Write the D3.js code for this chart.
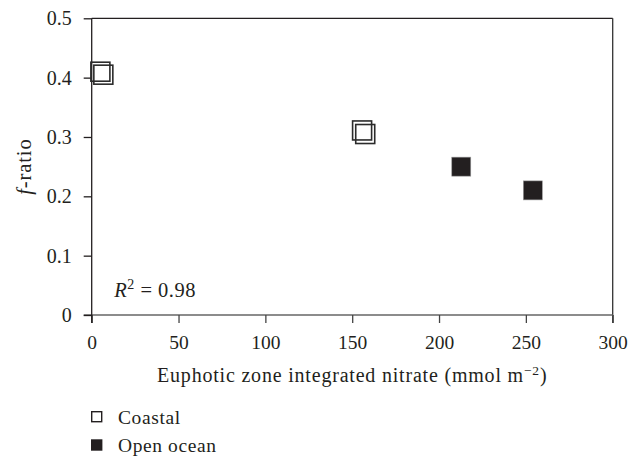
<!DOCTYPE html>
<html>
<head>
<meta charset="utf-8">
<script src="https://cdn.jsdelivr.net/npm/d3@7"></script>
<style>
  body { margin: 0; background: #fff; font-family: 'Liberation Serif', serif; }
</style>
</head>
<body>
<div id="chart"></div>
<script>
// Data
const coastalX = [5, 6.7, 155.7, 157.5];
const coastalY = [0.41, 0.405, 0.311, 0.305];
const oceanX = [212.8, 254];
const oceanY = [0.25, 0.21];
const xTicks = [0, 50, 100, 150, 200, 250, 300];
const yTicks = [0, 0.1, 0.2, 0.3, 0.4, 0.5];
const yTickLabels = ['0', '0.1', '0.2', '0.3', '0.4', '0.5'];
const legendLabels = ['Coastal', 'Open ocean'];

const totalW = 639, totalH = 458;
const margin = { top: 18.3, right: 26.3, bottom: 143, left: 91.7 };
const W = totalW - margin.left - margin.right;
const H = totalH - margin.top - margin.bottom;
const ink = '#231f20';
const serif = 'Liberation Serif, Times New Roman, serif';

const svg = d3.select('#chart').append('svg')
    .attr('width', totalW).attr('height', totalH)
    .style('font-family', serif);
const g = svg.append('g').attr('transform', `translate(${margin.left},${margin.top})`);

const x = d3.scaleLinear().domain([0, 300]).range([0, W]);
const y = d3.scaleLinear().domain([0, 0.5]).range([H, 0]);

// Frame (top + right)
g.append('line').attr('x1', 0).attr('x2', W).attr('y1', 0).attr('y2', 0)
    .attr('stroke', ink).attr('stroke-width', 1.3);
g.append('line').attr('x1', W).attr('x2', W).attr('y1', 0).attr('y2', H + 8)
    .attr('stroke', '#333').attr('stroke-width', 1.3);

// X axis
g.append('g').attr('transform', `translate(0,${H})`)
    .call(d3.axisBottom(x).tickValues(xTicks).tickSize(8).tickSizeOuter(0).tickPadding(12))
    .call(ax => ax.attr('font-family', null))
    .call(ax => ax.select('.domain').attr('stroke', '#666').attr('stroke-width', 1.5)
        .attr('d', `M-8,0H${W}`))
    .call(ax => ax.selectAll('line').attr('stroke', '#444').attr('stroke-width', 1.3))
    .call(ax => ax.selectAll('text').attr('font-size', 19.5)
        .style('font-family', serif).attr('fill', ink));

// Y axis
g.append('g')
    .call(d3.axisLeft(y).tickValues(yTicks).tickFormat((d, i) => yTickLabels[i])
        .tickSize(8).tickSizeOuter(0).tickPadding(12))
    .call(ax => ax.attr('font-family', null))
    .call(ax => ax.select('.domain').attr('stroke', ink).attr('stroke-width', 1.3)
        .attr('d', `M0,0V${H + 8}`))
    .call(ax => ax.selectAll('line').attr('stroke', ink).attr('stroke-width', 1.3))
    .call(ax => ax.selectAll('text').attr('font-size', 20)
        .style('font-family', serif).attr('fill', ink));

// Axis titles
const xt = g.append('text').attr('x', W / 2).attr('y', H + 67)
    .attr('text-anchor', 'middle').attr('font-size', 20).attr('fill', ink)
    .attr('letter-spacing', 0.8).style('font-family', serif);
xt.append('tspan').text('Euphotic zone integrated nitrate (mmol m');
xt.append('tspan').attr('dy', -7).attr('font-size', 13.5).text('−2');
xt.append('tspan').attr('dy', 7).text(')');

const yt = g.append('text').attr('transform', 'rotate(-90)')
    .attr('x', -H / 2).attr('y', -61).attr('text-anchor', 'middle')
    .attr('font-size', 20.5).attr('letter-spacing', 0.9).attr('fill', ink)
    .style('font-family', serif);
yt.append('tspan').attr('font-style', 'italic').text('f');
yt.append('tspan').text('-ratio');

// R² annotation
const rt = g.append('text').attr('x', x(13)).attr('y', y(0.031))
    .attr('font-size', 20.5).attr('letter-spacing', 0.5).attr('fill', ink)
    .style('font-family', serif);
rt.append('tspan').attr('font-style', 'italic').text('R');
rt.append('tspan').attr('dy', -8).attr('font-size', 14).text('2');
rt.append('tspan').attr('dy', 8).text(' = 0.98');

// Markers
const s = 19;
g.selectAll('.coastal').data(coastalX).join('rect').attr('class', 'coastal')
    .attr('x', (d) => x(d) - s / 2).attr('y', (d, i) => y(coastalY[i]) - s / 2)
    .attr('width', s).attr('height', s)
    .attr('fill', 'none').attr('stroke', '#2b2b2b').attr('stroke-width', 1.6);
g.selectAll('.ocean').data(oceanX).join('rect').attr('class', 'ocean')
    .attr('x', (d) => x(d) - s / 2).attr('y', (d, i) => y(oceanY[i]) - s / 2)
    .attr('width', s).attr('height', s)
    .attr('fill', ink).attr('stroke', '#9a9a9a').attr('stroke-width', 0.6);

// Legend
const lg = svg.append('g').attr('transform', 'translate(91,411)');
legendLabels.forEach((lab, i) => {
    const row = lg.append('g').attr('transform', `translate(0,${i * 28.3})`);
    row.append('rect').attr('x', 0.7).attr('y', 0.7).attr('width', 10).attr('height', 10)
        .attr('fill', i === 0 ? 'none' : ink).attr('stroke', ink).attr('stroke-width', 1.4);
    row.append('text').attr('x', 27).attr('y', 13).attr('font-size', 19.5)
        .attr('letter-spacing', 0.6).attr('fill', ink)
        .style('font-family', serif).text(lab);
});
</script>
</body>
</html>
